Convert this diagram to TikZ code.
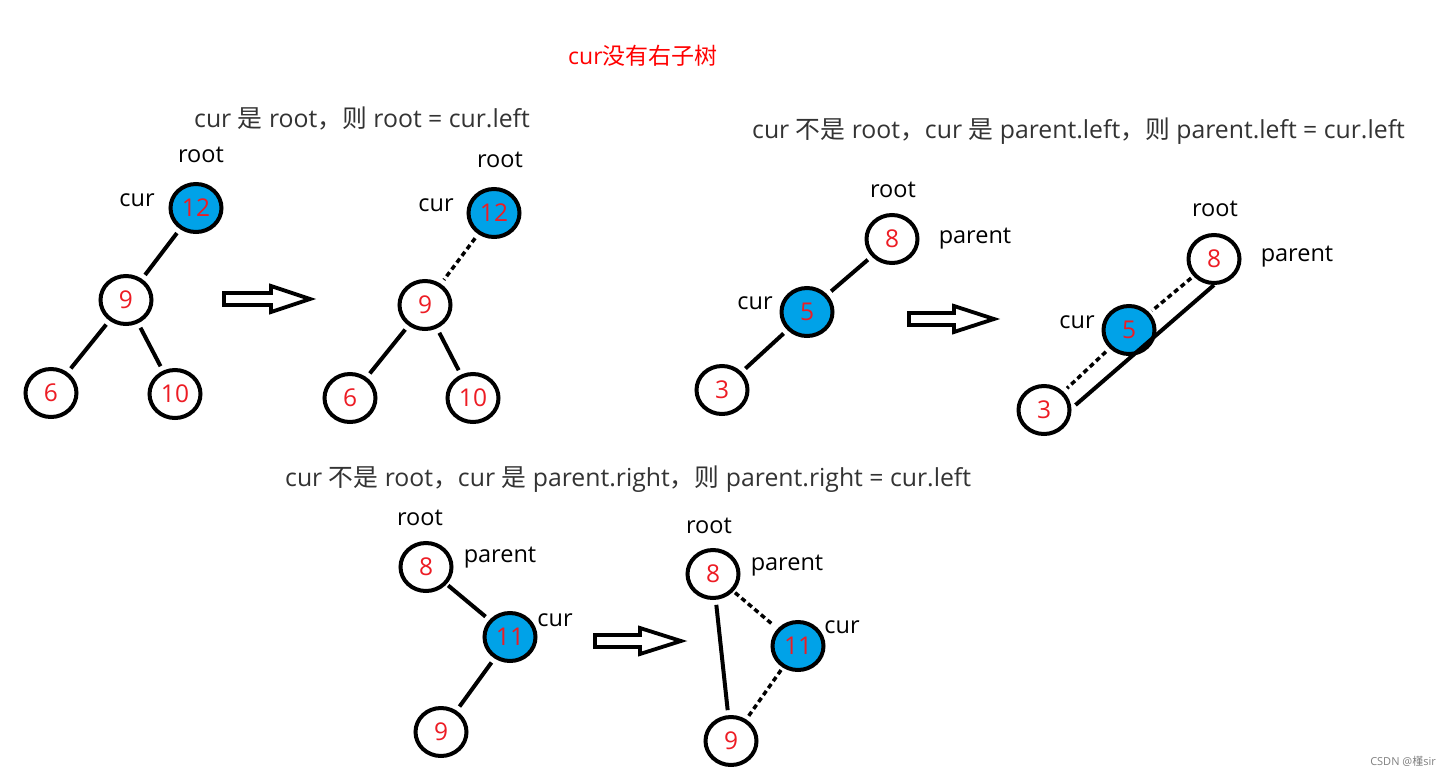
\documentclass[tikz,border=0pt]{standalone}
\usepackage{fontspec}
\setmainfont{Open Sans}
\newfontfamily\cjk{Noto Sans CJK SC}
\usetikzlibrary{shapes.geometric}
\definecolor{paintblue}{RGB}{0,162,232}
\definecolor{paintred}{RGB}{237,28,36}
\definecolor{captiongray}{RGB}{51,51,51}
\newcommand\blockarrow[4]{%
  \draw[line width=3.8pt,line join=miter] ({#1},{#4-6}) -- ({#3},{#4-6}) -- ({#3},{#4-13}) -- ({#2},{#4}) -- ({#3},{#4+13}) -- ({#3},{#4+6}) -- ({#1},{#4+6}) -- cycle;}
\begin{document}
\begin{tikzpicture}[x=1pt,y=-1pt,
  tnode/.style={ellipse,draw,line width=4pt,minimum width=51pt,minimum height=48pt,inner sep=0pt,font=\fontsize{24.5}{24.5}\selectfont,text=paintred},
  curnode/.style={tnode,fill=paintblue},
  lbl/.style={anchor=base,font=\fontsize{23.5}{23.5}\selectfont,inner sep=0pt},
  captext/.style={anchor=base west,font=\fontsize{24.8}{24.8}\selectfont,text=captiongray,inner sep=0pt},
  conn/.style={line width=4pt,shorten <=5pt,shorten >=5pt},
  dconn/.style={conn,dash pattern=on 5pt off 3.5pt,line width=3.5pt},
]
\useasboundingbox (0,0) rectangle (1450,776);
\fill[white] (0,0) rectangle (1450,776);

% title and captions
\node[anchor=base west,inner sep=0pt,text=red,font=\fontsize{23}{23}\selectfont] (title) at (568,65) {cur{\cjk 没有右子树}};
\node[captext] (cap1) at (194,127) {cur {\cjk 是} root{\cjk ，则} root = cur.left};
\node[captext] (cap2) at (752,138) {cur {\cjk 不是} root{\cjk ，}cur {\cjk 是} parent.left{\cjk ，则} parent.left = cur.left};
\node[captext] (cap3) at (285,486) {cur {\cjk 不是} root{\cjk ，}cur {\cjk 是} parent.right{\cjk ，则} parent.right = cur.left};

% ---------- diagram 1 ----------
\node[curnode] (a12) at (196,208) {12};
\node[tnode] (a9) at (126,300) {9};
\node[tnode] (a6) at (51,393) {6};
\node[tnode] (a10) at (175,394) {10};
\node[lbl] (a12root) at (201,162) {root};
\node[lbl] (a12cur) at (137,206) {cur};
\draw[conn] (a12) -- (a9);
\draw[conn] (a9) -- (a6);
\draw[conn] (a9) -- (a10);
\blockarrow{224}{310}{271}{299}

% ---------- diagram 1b ----------
\node[curnode] (b12) at (494,213) {12};
\node[tnode] (b9) at (425,305) {9};
\node[tnode] (b6) at (350,398) {6};
\node[tnode] (b10) at (473,398) {10};
\node[lbl] (b12root) at (500,167) {root};
\node[lbl] (b12cur) at (436,211) {cur};
\draw[dconn] (b12) -- (b9);
\draw[conn] (b9) -- (b6);
\draw[conn] (b9) -- (b10);

% ---------- diagram 2 ----------
\node[tnode] (c8) at (892,239) {8};
\node[curnode] (c5) at (807,312) {5};
\node[tnode] (c3) at (722,390) {3};
\node[lbl] (c8root) at (893,197) {root};
\node[lbl] (c8parent) at (975,243) {parent};
\node[lbl] (c5cur) at (755,309) {cur};
\draw[conn] (c8) -- (c5);
\draw[conn] (c5) -- (c3);
\blockarrow{909}{994}{954}{319}

% ---------- diagram 2b ----------
\node[tnode] (d8) at (1214,259) {8};
\node[curnode] (d5) at (1129,330) {5};
\node[tnode] (d3) at (1044,410) {3};
\node[lbl] (d8root) at (1215,216) {root};
\node[lbl] (d8parent) at (1297,261) {parent};
\node[lbl] (d5cur) at (1077,328) {cur};
\draw[dconn,shorten <=3pt,shorten >=3pt] (d8) -- (d5);
\draw[dconn] (d5) -- (d3);
\draw[line width=4pt] (d8.south) -- ([xshift=4pt,yshift=5pt]d3.east);

% ---------- diagram 3 ----------
\node[tnode] (e8) at (426,567) {8};
\node[curnode] (e11) at (510,637) {11};
\node[tnode] (e9) at (441,732) {9};
\node[lbl] (e8root) at (420,525) {root};
\node[lbl] (e8parent) at (500,562) {parent};
\node[lbl] (e11cur) at (555,626) {cur};
\draw[conn,shorten <=2pt] (e8) -- (e11);
\draw[conn] (e11) -- (e9);
\blockarrow{595}{681}{640}{641}

% ---------- diagram 3b ----------
\node[tnode] (f8) at (713,574) {8};
\node[curnode] (f11) at (798,646) {11};
\node[tnode] (f9) at (731,741) {9};
\node[lbl] (f8root) at (709,533) {root};
\node[lbl] (f8parent) at (787,570) {parent};
\node[lbl] (f11cur) at (842,633) {cur};
\draw[conn] (f8) -- (f9);
\draw[dconn,shorten <=2pt] (f8) -- (f11);
\draw[dconn,shorten <=3pt,shorten >=3pt] (f11) -- (f9);

% watermark
\node[anchor=base east,inner sep=0pt,text=gray,font=\fontsize{11}{11}\selectfont] (wm) at (1436,765) {CSDN @{\cjk 槿}sir};
\end{tikzpicture}
\end{document}
